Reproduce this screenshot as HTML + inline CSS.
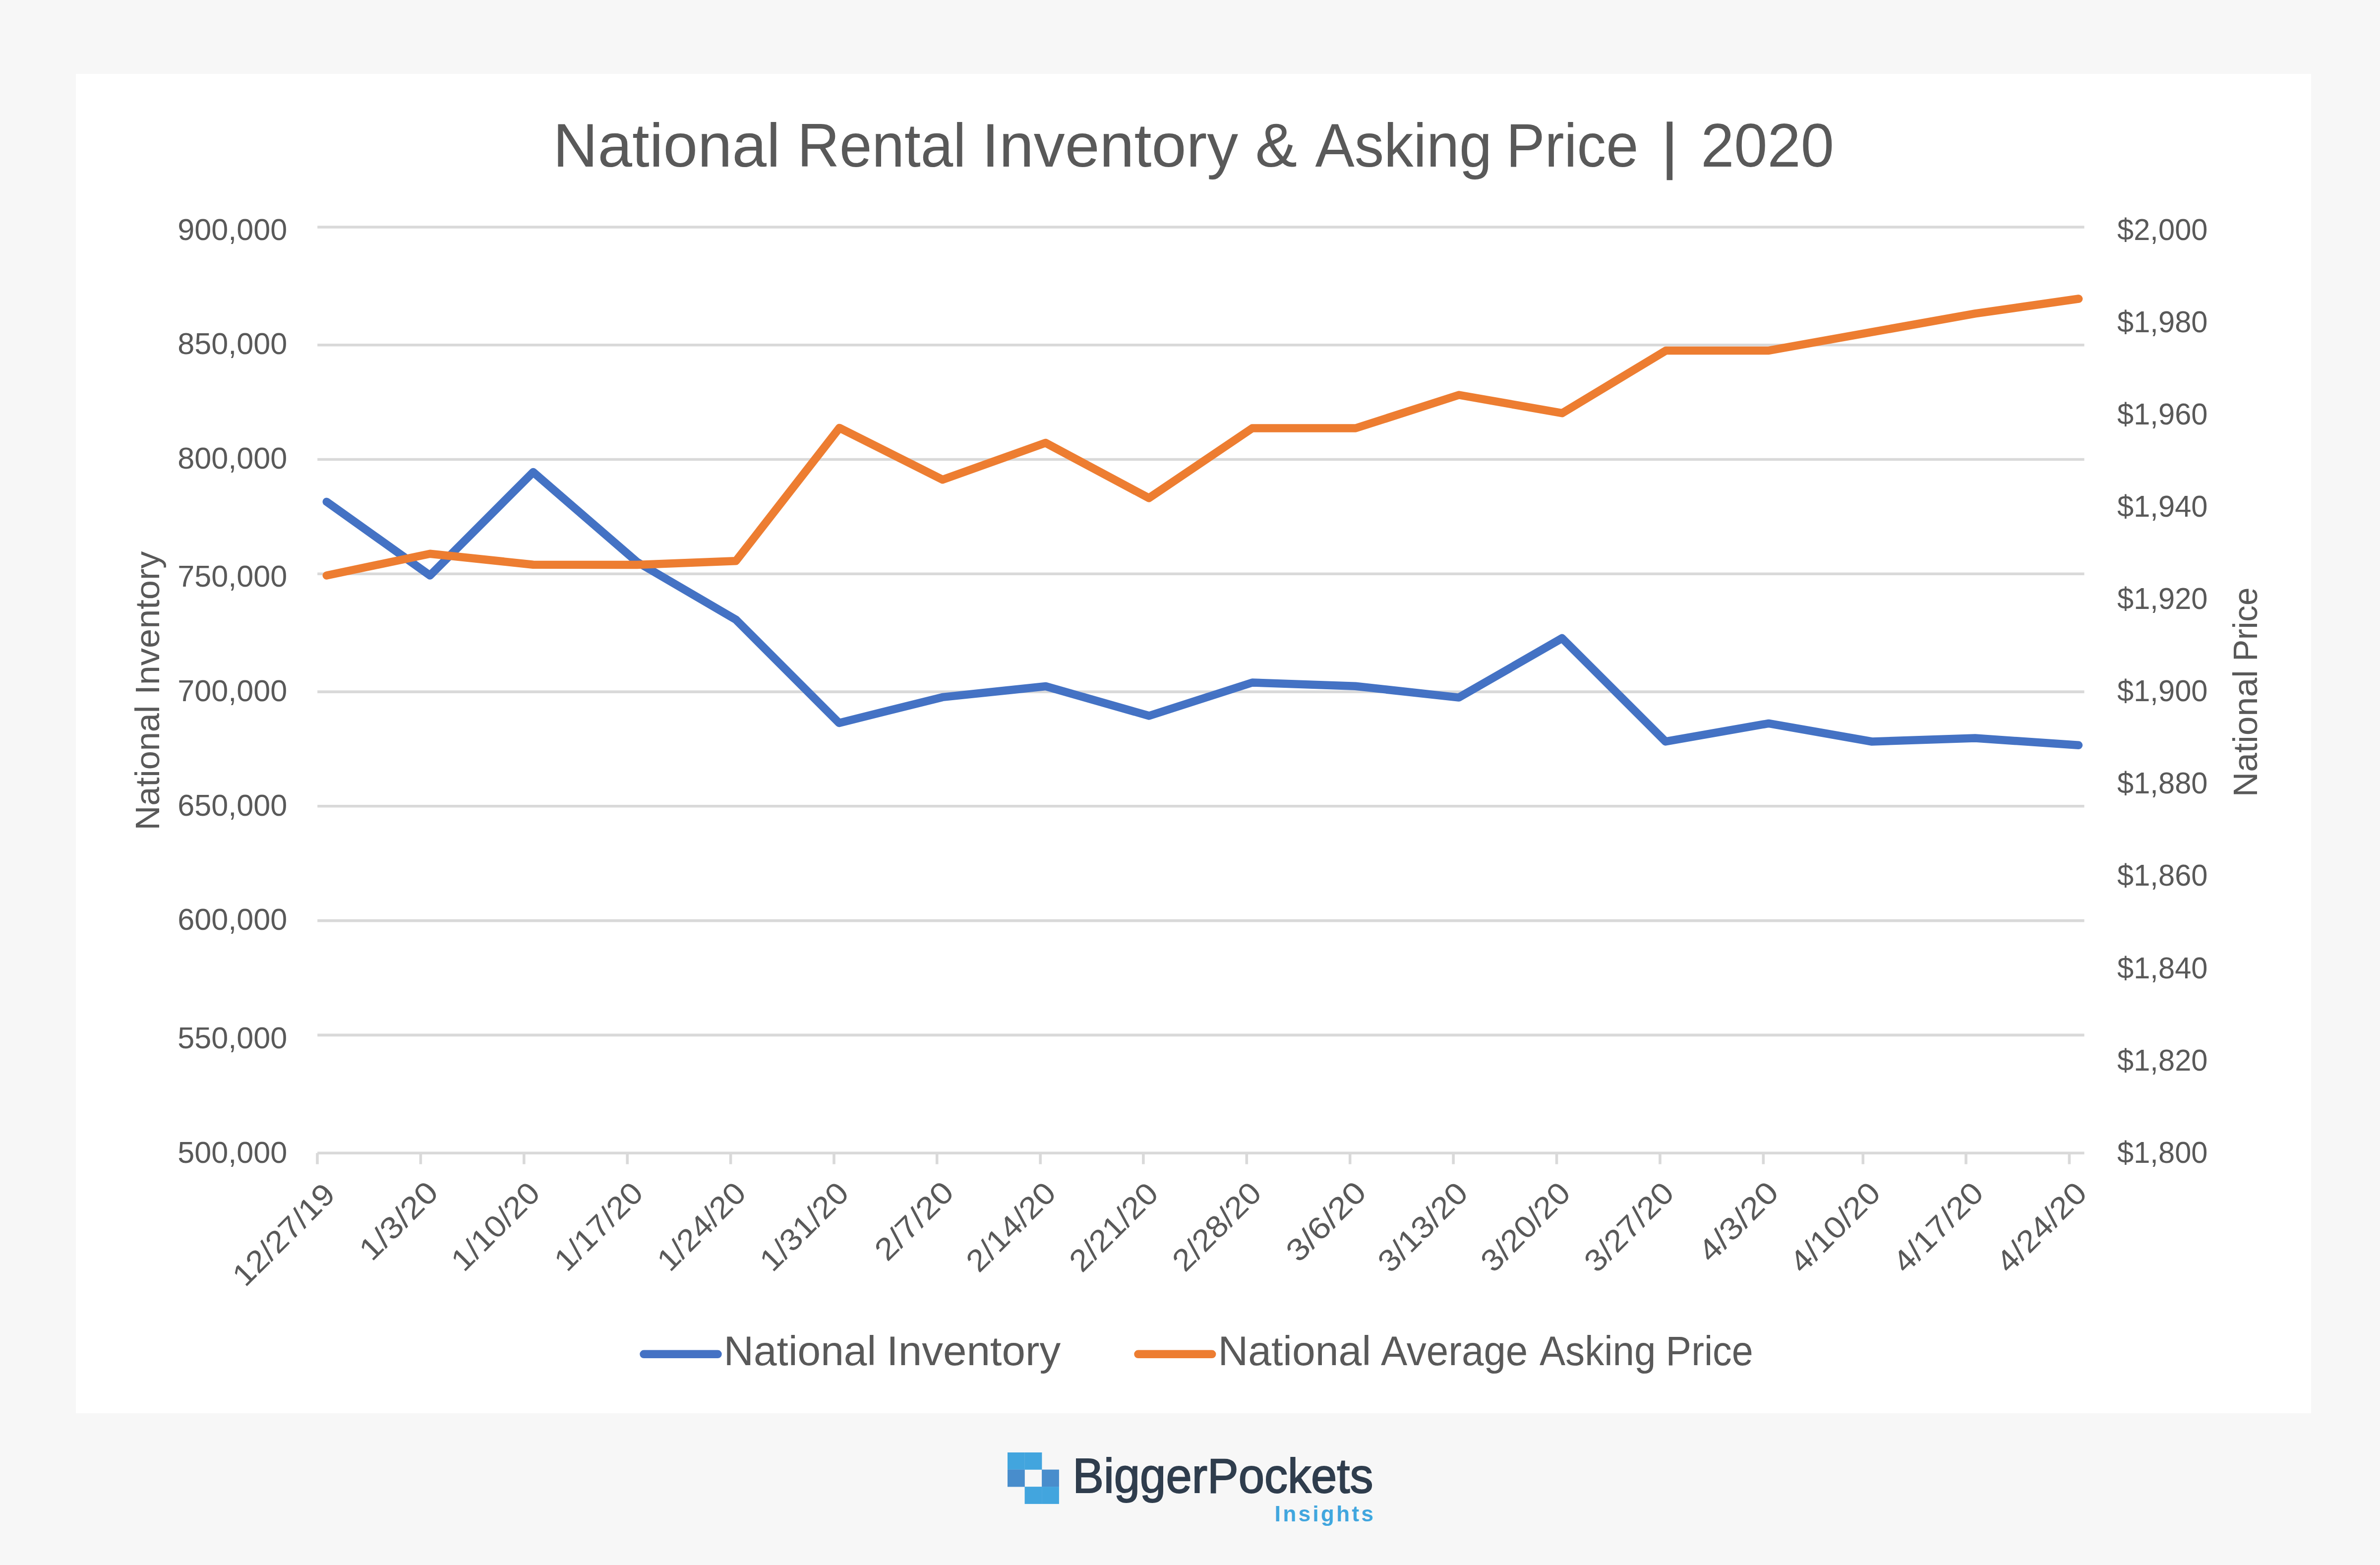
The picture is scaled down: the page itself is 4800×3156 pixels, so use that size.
<!DOCTYPE html>
<html lang="en">
<head>
<meta charset="utf-8">
<title>National Rental Inventory &amp; Asking Price | 2020</title>
<style>
html,body{margin:0;padding:0;background:#f7f7f7;}
body{width:4800px;height:3156px;overflow:hidden;}
svg{display:block;}
text{font-family:'Liberation Sans', sans-serif;fill:#595959;}
</style>
</head>
<body>
<svg width="4800" height="3156" viewBox="0 0 4800 3156">
<rect x="0" y="0" width="4800" height="3156" fill="#f7f7f7"/>
<rect x="153" y="149" width="4508" height="2701" fill="#ffffff"/>
<g stroke="#d9d9d9" stroke-width="5.6" fill="none">
<line x1="640.2" y1="458.0" x2="4203.6" y2="458.0"/>
<line x1="640.2" y1="695.8" x2="4203.6" y2="695.8"/>
<line x1="640.2" y1="926.5" x2="4203.6" y2="926.5"/>
<line x1="640.2" y1="1157.3" x2="4203.6" y2="1157.3"/>
<line x1="640.2" y1="1395.1" x2="4203.6" y2="1395.1"/>
<line x1="640.2" y1="1625.8" x2="4203.6" y2="1625.8"/>
<line x1="640.2" y1="1856.6" x2="4203.6" y2="1856.6"/>
<line x1="640.2" y1="2087.4" x2="4203.6" y2="2087.4"/>
<line x1="640.2" y1="2325.2" x2="4203.6" y2="2325.2"/>
<line x1="640.0" y1="2325.2" x2="640.0" y2="2347.7"/>
<line x1="848.4" y1="2325.2" x2="848.4" y2="2347.7"/>
<line x1="1056.8" y1="2325.2" x2="1056.8" y2="2347.7"/>
<line x1="1265.2" y1="2325.2" x2="1265.2" y2="2347.7"/>
<line x1="1473.6" y1="2325.2" x2="1473.6" y2="2347.7"/>
<line x1="1682.0" y1="2325.2" x2="1682.0" y2="2347.7"/>
<line x1="1889.7" y1="2325.2" x2="1889.7" y2="2347.7"/>
<line x1="2098.2" y1="2325.2" x2="2098.2" y2="2347.7"/>
<line x1="2305.9" y1="2325.2" x2="2305.9" y2="2347.7"/>
<line x1="2514.3" y1="2325.2" x2="2514.3" y2="2347.7"/>
<line x1="2722.7" y1="2325.2" x2="2722.7" y2="2347.7"/>
<line x1="2931.1" y1="2325.2" x2="2931.1" y2="2347.7"/>
<line x1="3139.5" y1="2325.2" x2="3139.5" y2="2347.7"/>
<line x1="3347.9" y1="2325.2" x2="3347.9" y2="2347.7"/>
<line x1="3556.3" y1="2325.2" x2="3556.3" y2="2347.7"/>
<line x1="3757.3" y1="2325.2" x2="3757.3" y2="2347.7"/>
<line x1="3965.0" y1="2325.2" x2="3965.0" y2="2347.7"/>
<line x1="4173.4" y1="2325.2" x2="4173.4" y2="2347.7"/>
</g>
<polyline fill="none" stroke="#4472c4" stroke-width="16.5" stroke-linecap="round" stroke-linejoin="round" points="658.8,1011.9 867.2,1160.5 1075.3,952.1 1284.5,1133.0 1484.2,1249.6 1692.3,1458.0 1900.9,1405.9 2109.0,1384.0 2317.5,1443.5 2525.6,1376.5 2733.6,1383.7 2942.1,1406.6 3150.4,1287.0 3359.0,1495.4 3567.1,1458.9 3775.4,1495.5 3983.4,1488.5 4192.0,1502.8"/>
<polyline fill="none" stroke="#ed7d31" stroke-width="16.5" stroke-linecap="round" stroke-linejoin="round" points="658.8,1160.5 867.2,1116.8 1075.3,1138.7 1284.5,1138.9 1484.2,1131.3 1693.0,862.9 1901.1,967.3 2108.8,893.1 2317.2,1004.4 2525.6,863.5 2734.0,863.5 2942.4,796.5 3150.5,833.2 3360.0,706.9 3567.4,706.9 3775.4,669.7 3983.4,632.4 4192.2,602.5"/>
<text y="335.9" font-size="123.7"><tspan x="1115.2" textLength="458.5" lengthAdjust="spacingAndGlyphs">National</tspan> <tspan x="1608.0" textLength="340.3" lengthAdjust="spacingAndGlyphs">Rental</tspan> <tspan x="1980.0" textLength="517.1" lengthAdjust="spacingAndGlyphs">Inventory</tspan> <tspan x="2531.6" textLength="84.6" lengthAdjust="spacingAndGlyphs">&amp;</tspan> <tspan x="2652.4" textLength="356.8" lengthAdjust="spacingAndGlyphs">Asking</tspan> <tspan x="3037.4" textLength="267.0" lengthAdjust="spacingAndGlyphs">Price</tspan> <tspan x="3351.2" style="stroke:#595959;stroke-width:1.6px">|</tspan> <tspan x="3430.2" textLength="268.6" lengthAdjust="spacingAndGlyphs">2020</tspan></text>
<text y="2753.3" font-size="84.0"><tspan x="1459.4" textLength="307.7" lengthAdjust="spacingAndGlyphs">National</tspan> <tspan x="1788.0" textLength="351.2" lengthAdjust="spacingAndGlyphs">Inventory</tspan></text>
<text y="2753.3" font-size="84.0"><tspan x="2456.4" textLength="308.7" lengthAdjust="spacingAndGlyphs">National</tspan> <tspan x="2785.0" textLength="296.3" lengthAdjust="spacingAndGlyphs">Average</tspan> <tspan x="3105.0" textLength="234.5" lengthAdjust="spacingAndGlyphs">Asking</tspan> <tspan x="3359.6" textLength="176.1" lengthAdjust="spacingAndGlyphs">Price</tspan></text>
<text transform="translate(320.5,1668.2) rotate(-90)" font-size="68.5"><tspan x="-6.0" textLength="251.4" lengthAdjust="spacingAndGlyphs">National</tspan> <tspan x="267.4" textLength="289.3" lengthAdjust="spacingAndGlyphs">Inventory</tspan></text>
<text transform="translate(4552.3,1601.7) rotate(-90)" font-size="68.5"><tspan x="-5.5" textLength="255.9" lengthAdjust="spacingAndGlyphs">National</tspan> <tspan x="268.1" textLength="149.1" lengthAdjust="spacingAndGlyphs">Price</tspan></text>
<text y="3010.3" font-size="98.0" style="fill:#2f3d4d;stroke:#2f3d4d;stroke-width:2px"><tspan x="2163.2" textLength="606.3" lengthAdjust="spacingAndGlyphs">BiggerPockets</tspan></text>
<text y="3068.1" font-size="44.0" style="fill:#41a6de;font-weight:bold"><tspan x="2570.6" textLength="199.1" lengthAdjust="spacing">Insights</tspan></text>
<g font-size="62" text-anchor="end">
<text x="579.2" y="483.9" textLength="221" lengthAdjust="spacingAndGlyphs">900,000</text>
<text x="579.2" y="714.4" textLength="221" lengthAdjust="spacingAndGlyphs">850,000</text>
<text x="579.2" y="945.0" textLength="221" lengthAdjust="spacingAndGlyphs">800,000</text>
<text x="579.2" y="1183.2" textLength="221" lengthAdjust="spacingAndGlyphs">750,000</text>
<text x="579.2" y="1414.4" textLength="221" lengthAdjust="spacingAndGlyphs">700,000</text>
<text x="579.2" y="1645.4" textLength="221" lengthAdjust="spacingAndGlyphs">650,000</text>
<text x="579.2" y="1875.4" textLength="221" lengthAdjust="spacingAndGlyphs">600,000</text>
<text x="579.2" y="2114.1" textLength="221" lengthAdjust="spacingAndGlyphs">550,000</text>
<text x="579.2" y="2344.6" textLength="221" lengthAdjust="spacingAndGlyphs">500,000</text>
</g>
<g font-size="62">
<text x="4270" y="483.9" textLength="182.5" lengthAdjust="spacingAndGlyphs">$2,000</text>
<text x="4270" y="670.0" textLength="182.5" lengthAdjust="spacingAndGlyphs">$1,980</text>
<text x="4270" y="856.0" textLength="182.5" lengthAdjust="spacingAndGlyphs">$1,960</text>
<text x="4270" y="1042.1" textLength="182.5" lengthAdjust="spacingAndGlyphs">$1,940</text>
<text x="4270" y="1228.2" textLength="182.5" lengthAdjust="spacingAndGlyphs">$1,920</text>
<text x="4270" y="1414.2" textLength="182.5" lengthAdjust="spacingAndGlyphs">$1,900</text>
<text x="4270" y="1600.3" textLength="182.5" lengthAdjust="spacingAndGlyphs">$1,880</text>
<text x="4270" y="1786.4" textLength="182.5" lengthAdjust="spacingAndGlyphs">$1,860</text>
<text x="4270" y="1972.5" textLength="182.5" lengthAdjust="spacingAndGlyphs">$1,840</text>
<text x="4270" y="2158.5" textLength="182.5" lengthAdjust="spacingAndGlyphs">$1,820</text>
<text x="4270" y="2344.6" textLength="182.5" lengthAdjust="spacingAndGlyphs">$1,800</text>
</g>
<g font-size="62" text-anchor="end">
<text transform="translate(679.5,2412.3) rotate(-45)" textLength="261.7" lengthAdjust="spacingAndGlyphs">12/27/19</text>
<text transform="translate(887.4,2408.3) rotate(-45)" textLength="194.2" lengthAdjust="spacingAndGlyphs">1/3/20</text>
<text transform="translate(1092.8,2409.8) rotate(-45)" textLength="222.3" lengthAdjust="spacingAndGlyphs">1/10/20</text>
<text transform="translate(1300.7,2409.8) rotate(-45)" textLength="222.3" lengthAdjust="spacingAndGlyphs">1/17/20</text>
<text transform="translate(1508.1,2409.8) rotate(-45)" textLength="222.3" lengthAdjust="spacingAndGlyphs">1/24/20</text>
<text transform="translate(1715.5,2409.8) rotate(-45)" textLength="222.6" lengthAdjust="spacingAndGlyphs">1/31/20</text>
<text transform="translate(1927.2,2408.3) rotate(-45)" textLength="194.9" lengthAdjust="spacingAndGlyphs">2/7/20</text>
<text transform="translate(2133.2,2409.8) rotate(-45)" textLength="224.8" lengthAdjust="spacingAndGlyphs">2/14/20</text>
<text transform="translate(2339.9,2410.8) rotate(-45)" textLength="223.0" lengthAdjust="spacingAndGlyphs">2/21/20</text>
<text transform="translate(2547.8,2409.8) rotate(-45)" textLength="223.0" lengthAdjust="spacingAndGlyphs">2/28/20</text>
<text transform="translate(2759.2,2408.3) rotate(-45)" textLength="197.8" lengthAdjust="spacingAndGlyphs">3/6/20</text>
<text transform="translate(2964.1,2409.8) rotate(-45)" textLength="225.8" lengthAdjust="spacingAndGlyphs">3/13/20</text>
<text transform="translate(3171.0,2409.8) rotate(-45)" textLength="224.8" lengthAdjust="spacingAndGlyphs">3/20/20</text>
<text transform="translate(3379.9,2409.8) rotate(-45)" textLength="225.1" lengthAdjust="spacingAndGlyphs">3/27/20</text>
<text transform="translate(3590.8,2408.3) rotate(-45)" textLength="198.5" lengthAdjust="spacingAndGlyphs">4/3/20</text>
<text transform="translate(3796.3,2409.8) rotate(-45)" textLength="227.6" lengthAdjust="spacingAndGlyphs">4/10/20</text>
<text transform="translate(4004.0,2409.8) rotate(-45)" textLength="227.2" lengthAdjust="spacingAndGlyphs">4/17/20</text>
<text transform="translate(4212.4,2409.8) rotate(-45)" textLength="227.2" lengthAdjust="spacingAndGlyphs">4/24/20</text>
</g>
<line x1="1298.5" y1="2730.8" x2="1447.5" y2="2730.8" stroke="#4472c4" stroke-width="16.5" stroke-linecap="round"/>
<line x1="2295.5" y1="2730.8" x2="2444.2" y2="2730.8" stroke="#ed7d31" stroke-width="16.5" stroke-linecap="round"/>
<rect x="2032.0" y="2929.0" width="34.8" height="34.8" fill="#42a5de"/>
<rect x="2066.6" y="2929.0" width="34.8" height="34.8" fill="#42a5de"/>
<rect x="2032.0" y="2963.6" width="34.8" height="34.8" fill="#488dcc"/>
<rect x="2101.1" y="2963.6" width="34.8" height="34.8" fill="#488dcc"/>
<rect x="2066.6" y="2998.1" width="34.8" height="34.8" fill="#42a5de"/>
<rect x="2101.1" y="2998.1" width="34.8" height="34.8" fill="#42a5de"/>
</svg>
</body>
</html>
